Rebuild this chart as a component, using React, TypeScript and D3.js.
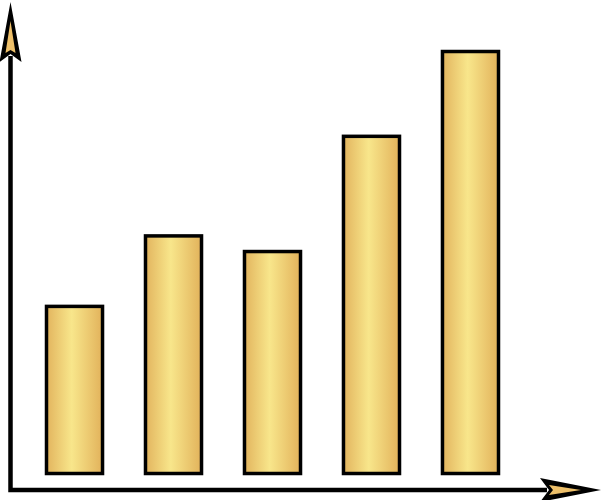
import React from "react";
import * as d3 from "d3";

const categories = ["A", "B", "C", "D", "E"];
const values = [39.6, 56.3, 52.6, 79.9, 100];

const W = 602;
const H = 500;

export default function App() {
  const x = d3
    .scaleBand<string>()
    .domain(categories)
    .range([46.5, 498.5])
    .paddingInner(0.434)
    .paddingOuter(0);
  const y = d3.scaleLinear().domain([0, 100]).range([473.5, 51.5]);

  const axisX = 10.5;
  const axisY = 490;
  const yTip = 2;
  const xTip = 601;

  // Y arrow (pointing up)
  const yArrowOuter = `M${axisX},${yTip} L${axisX + 11},${yTip + 60} L${axisX},${yTip + 52} L${axisX - 11},${yTip + 60} Z`;
  const yArrowInner = `M${axisX},${yTip + 19} L${axisX + 5},${yTip + 51} L${axisX},${yTip + 48} L${axisX - 5},${yTip + 51} Z`;
  // X arrow (pointing right)
  const xArrowOuter = `M${xTip},${axisY} L${xTip - 61},${axisY - 12} L${xTip - 52},${axisY} L${xTip - 61},${axisY + 12} Z`;
  const xArrowInner = `M${xTip - 20},${axisY} L${xTip - 52},${axisY - 5} L${xTip - 48},${axisY} L${xTip - 52},${axisY + 5} Z`;

  return (
    <svg
      width={W}
      height={H}
      style={{ position: "absolute", left: 0, top: 0, background: "#fff" }}
    >
      <defs>
        <linearGradient id="gold" x1="0" x2="1" y1="0" y2="0">
          <stop offset="0%" stopColor="#e2b45e" />
          <stop offset="45%" stopColor="#f8e68b" />
          <stop offset="100%" stopColor="#e2b25b" />
        </linearGradient>
      </defs>
      {categories.map((c, i) => (
        <rect
          key={c}
          x={x(c)}
          y={y(values[i])}
          width={x.bandwidth()}
          height={y(0) - y(values[i])}
          fill="url(#gold)"
          stroke="#000"
          strokeWidth={3.5}
        />
      ))}
      <path
        d={`M${axisX},${yTip + 54} L${axisX},${axisY} L${xTip - 54},${axisY}`}
        fill="none"
        stroke="#000"
        strokeWidth={4.5}
        strokeLinejoin="miter"
      />
      <path d={yArrowOuter} fill="#000" />
      <path d={yArrowInner} fill="#eec06a" />
      <path d={xArrowOuter} fill="#000" />
      <path d={xArrowInner} fill="#eec06a" />
    </svg>
  );
}
